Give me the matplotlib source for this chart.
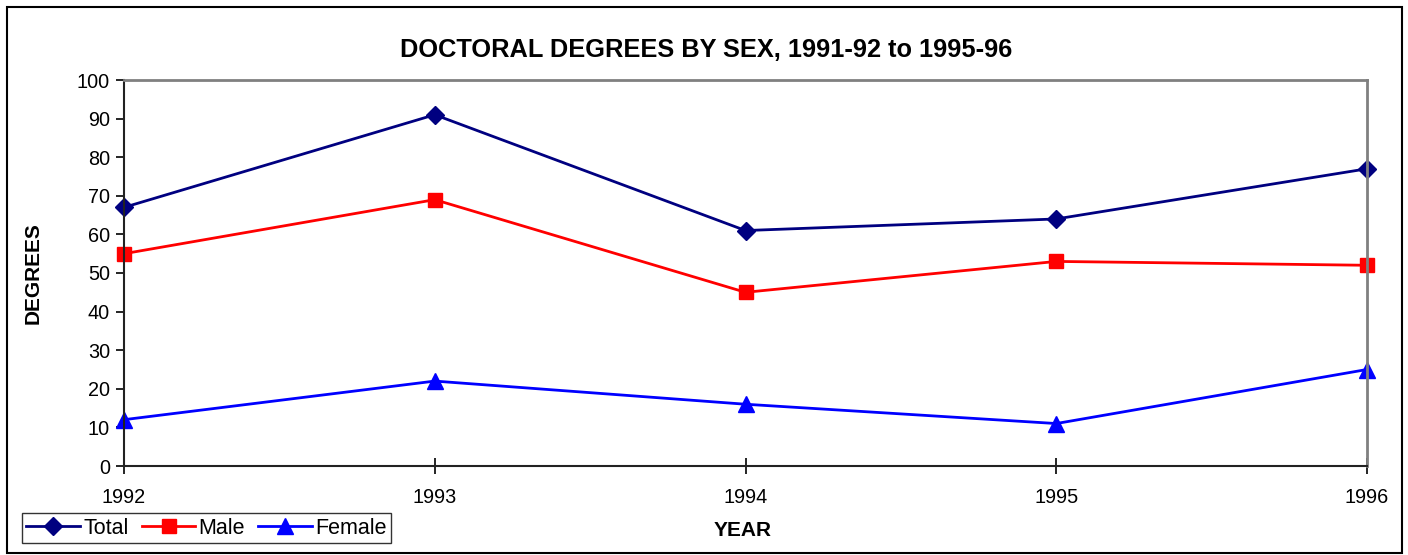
import matplotlib.pyplot as plt
from matplotlib.patches import Rectangle

plt.rcParams["font.family"] = ["Liberation Sans", "DejaVu Sans"]

years = [1992, 1993, 1994, 1995, 1996]
total = [67, 91, 61, 64, 77]
male = [55, 69, 45, 53, 52]
female = [12, 22, 16, 11, 25]

fig = plt.figure(figsize=(14.08, 5.55), dpi=100)
ax = fig.add_axes([124 / 1408, 1 - 466 / 555, (1367 - 124) / 1408, (466 - 80) / 555])

ax.plot(years, total, color="#000080", marker="D", markersize=9, linewidth=2, label="Total", clip_on=False)
ax.plot(years, male, color="#ff0000", marker="s", markersize=10, linewidth=2, label="Male", clip_on=False)
ax.plot(years, female, color="#0000ff", marker="^", markersize=11, linewidth=2, label="Female", clip_on=False)

ax.set_xlim(1992, 1996)
ax.set_ylim(0, 100)
ax.set_xticks(years)
ax.set_yticks(range(0, 101, 10))
ax.tick_params(axis="both", direction="inout", length=12, width=1.2, labelsize=14.3, colors="black")
ax.tick_params(axis="x", pad=10)
ax.tick_params(axis="y", direction="out", length=6, pad=4)

for side in ("top", "right"):
    ax.spines[side].set_color("#808080")
    ax.spines[side].set_linewidth(2)
for side in ("left", "bottom"):
    ax.spines[side].set_color("#222222")
    ax.spines[side].set_linewidth(1.5)

# title is centred on the figure, not on the axes
fig.text(706 / 1408, 1 - 50 / 555, "DOCTORAL DEGREES BY SEX, 1991-92 to 1995-96",
         fontsize=18.3, fontweight="bold", ha="center", va="center")
fig.text(743 / 1408, 1 - 530 / 555, "YEAR", fontsize=15, fontweight="bold", ha="center", va="center")
fig.text(33 / 1408, 1 - 273 / 555, "DEGREES", fontsize=15, fontweight="bold", ha="center", va="center", rotation=90)

leg = fig.legend(loc="lower left", bbox_to_anchor=(22 / 1408, 1 - 543 / 555), ncol=3, fontsize=15.5,
                 frameon=True, fancybox=False, edgecolor="black", borderpad=0.2, handlelength=2.5,
                 handletextpad=0.15, columnspacing=0.6, borderaxespad=0)
leg.get_frame().set_linewidth(1)

fig.patches.append(Rectangle((7 / 1408, 2 / 555), 1395 / 1408, 546 / 555, transform=fig.transFigure,
                             fill=False, edgecolor="black", linewidth=1.5))

fig.savefig("out.png", dpi=100)
